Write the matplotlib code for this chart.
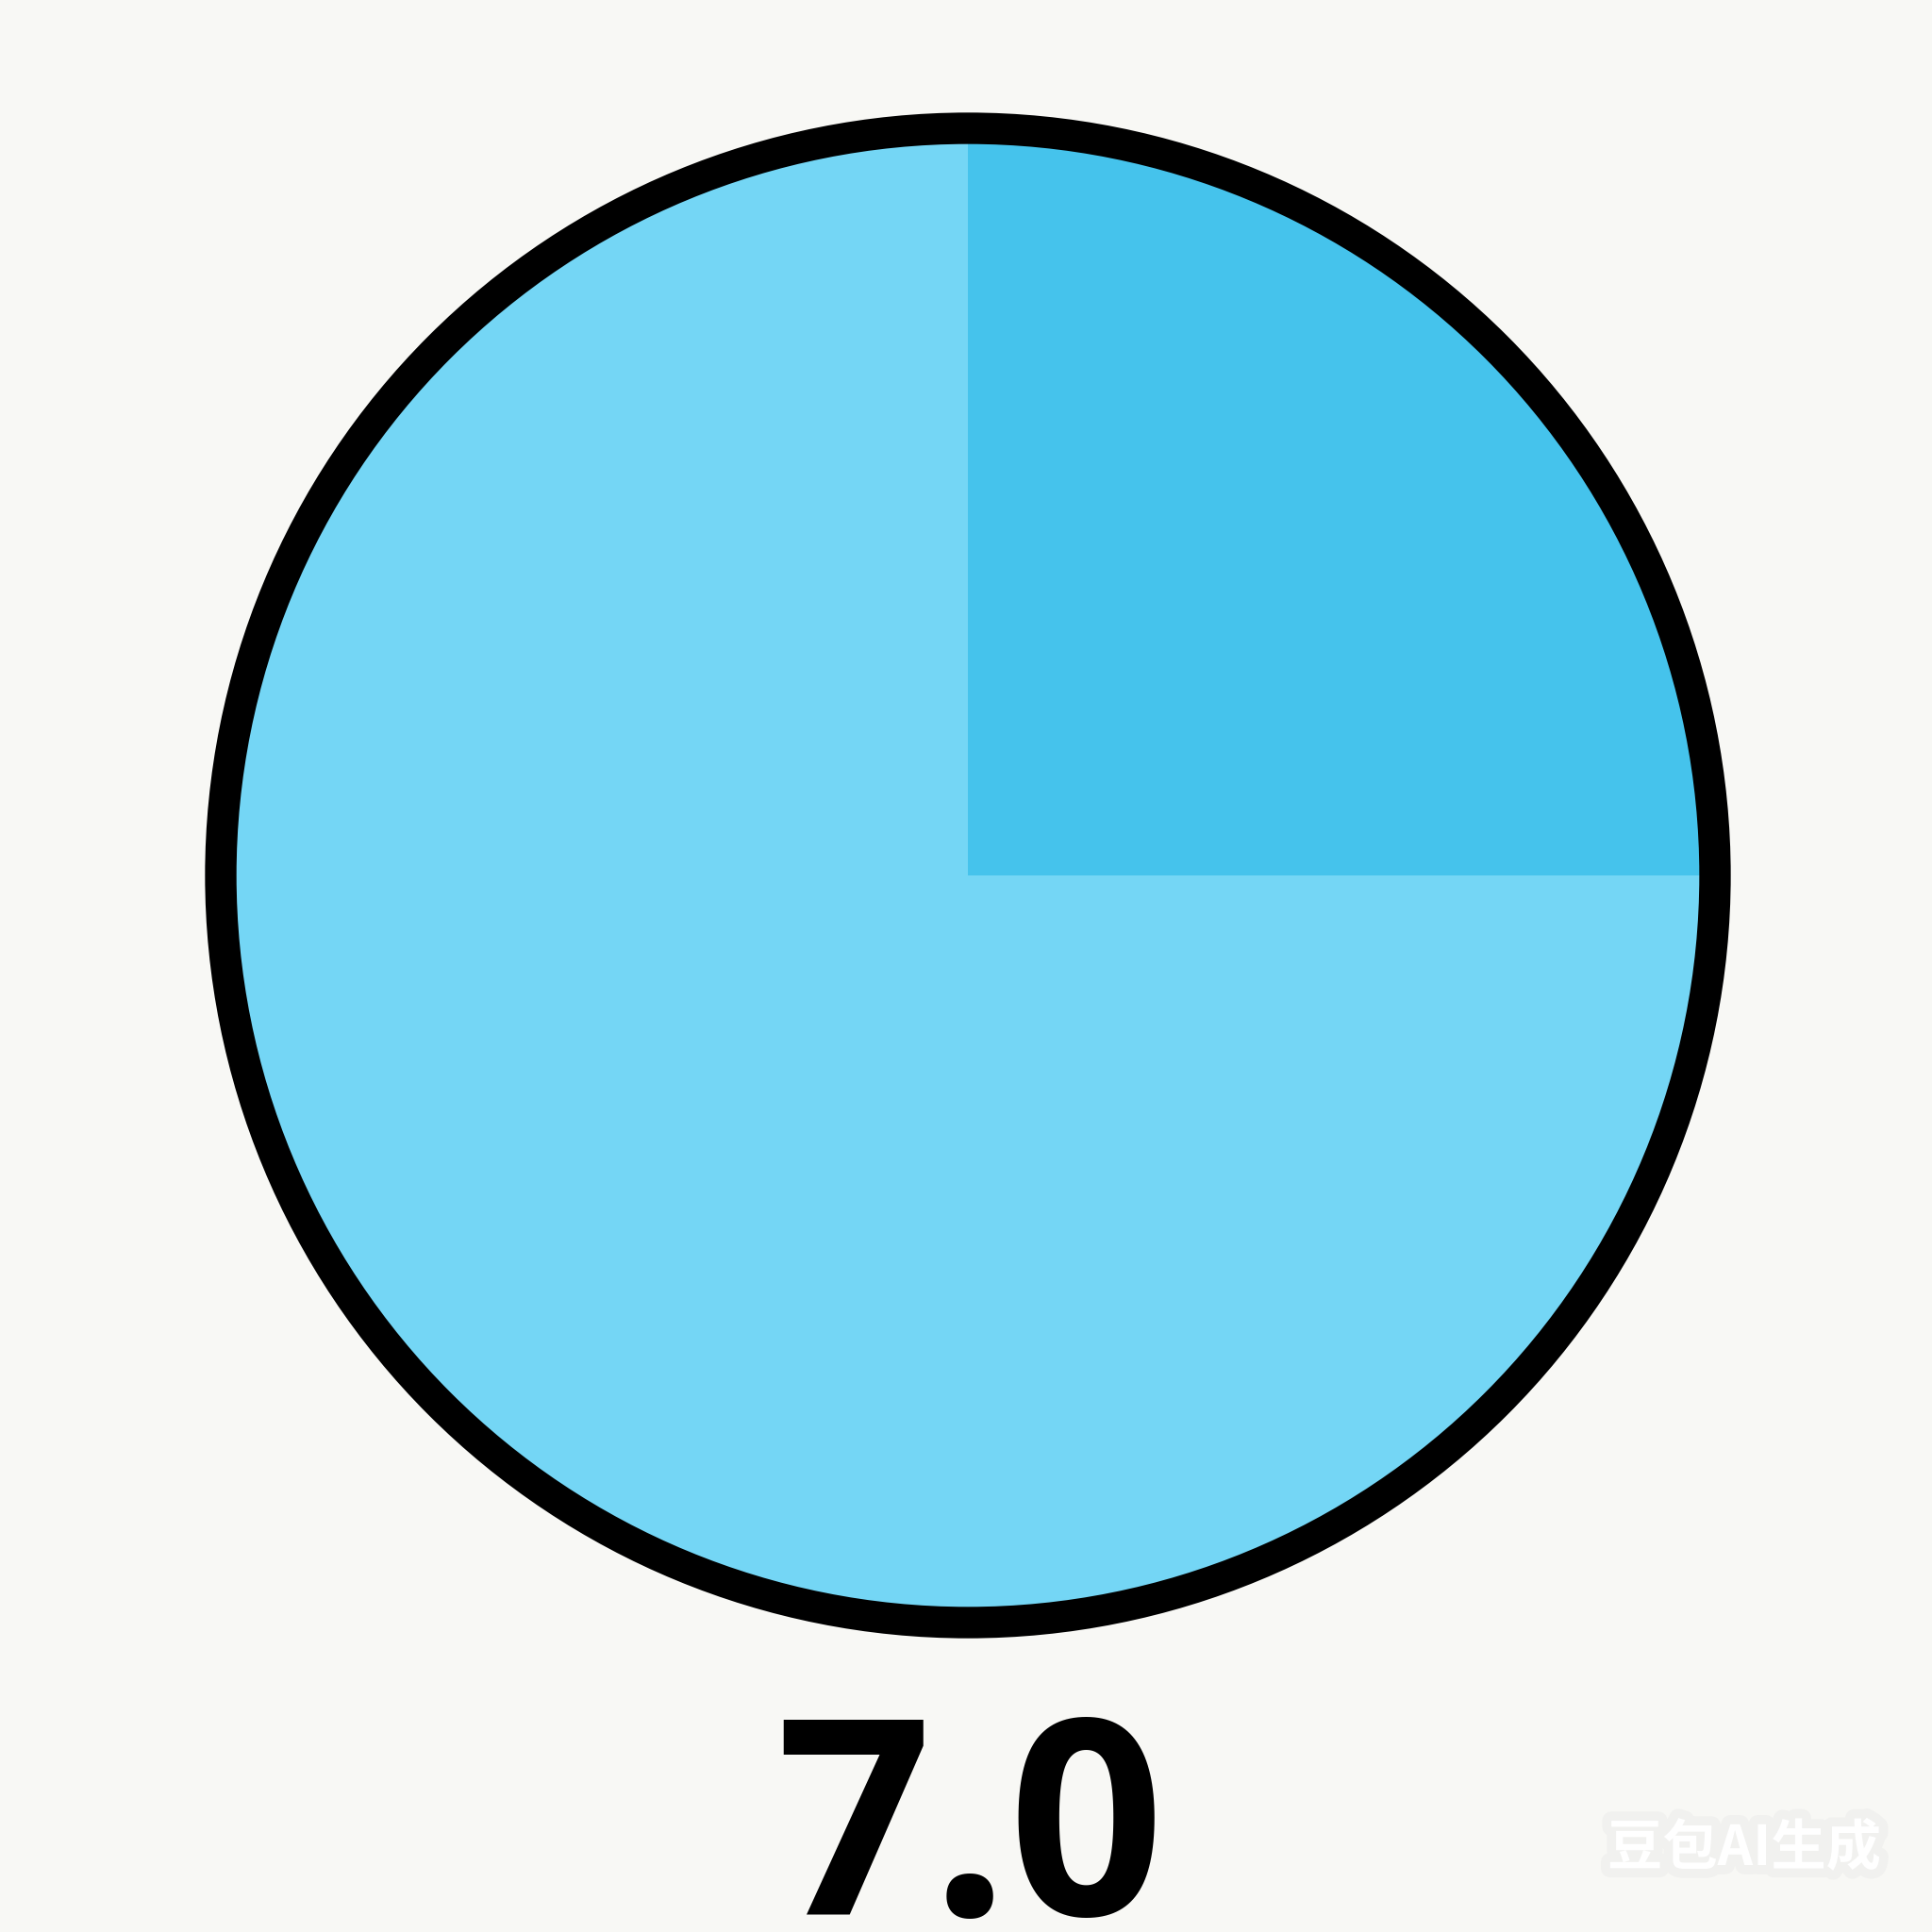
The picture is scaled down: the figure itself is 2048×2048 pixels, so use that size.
import matplotlib
matplotlib.use("Agg")
import matplotlib.pyplot as plt
import matplotlib.patheffects as pe
from matplotlib.patches import Circle

# Data
categories = ["Part", "Rest"]
values = [25, 75]
slice_colors = ["#45C3EC", "#74D6F5"]
label_text = "7.0"
watermark = "豆包AI生成"

W = 2048
fig = plt.figure(figsize=(20.48, 20.48), dpi=100)
fig.patch.set_facecolor("#F8F8F5")
ax = fig.add_axes([0, 0, 1, 1])
ax.set_xlim(0, W)
ax.set_ylim(0, W)
ax.set_aspect("equal")
ax.axis("off")

cx, cy, r = 1026, W - 928, 792
ax.pie(values, colors=slice_colors, startangle=90, counterclock=False,
       center=(cx, cy), radius=r, frame=True,
       wedgeprops=dict(linewidth=0, edgecolor="none"))
ax.set_xlim(0, W)
ax.set_ylim(0, W)
ax.axis("off")
ax.add_patch(Circle((cx, cy), r, fill=False, edgecolor="black", linewidth=24, zorder=5))

ax.text(1028, W - 2030, label_text, ha="center", va="baseline",
        fontsize=208, fontweight="bold", family=["Open Sans", "DejaVu Sans"],
        color="black")

ax.text(1849, W - 1960, watermark, ha="center", va="center", fontsize=42,
        fontweight="bold", color="white",
        family=["Noto Sans CJK SC", "DejaVu Sans"],
        path_effects=[pe.withStroke(linewidth=14, foreground="#F1F1EF")])

fig.savefig("out.png", dpi=100, facecolor=fig.get_facecolor())
